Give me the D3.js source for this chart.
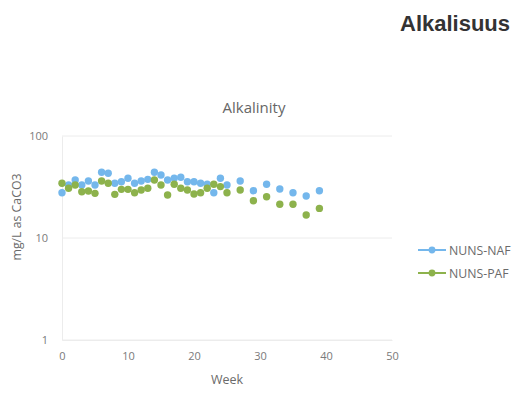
<!DOCTYPE html>
<html>
<head>
<meta charset="utf-8">
<script src="https://cdn.jsdelivr.net/npm/d3@7"></script>
<style>
  html, body { margin: 0; padding: 0; background: #fff; }
  svg { display: block; }
</style>
</head>
<body>
<svg id="chart" width="523" height="403"></svg>
<script>
// Weekly alkalinity readings (mg/L as CaCO3) for the two column types
const weeks = [0,1,2,3,4,5,6,7,8,9,10,11,12,13,14,15,16,17,18,19,20,21,22,23,24,25,27,29,31,33,35,37,39];
const nafValues = [27.8,33.1,37.0,33.1,36.2,33.1,44.1,43.1,34.4,35.6,38.5,34.4,36.2,37.6,44.1,41.5,37.0,38.5,39.4,35.6,35.6,34.4,33.6,27.8,38.5,33.1,36.2,29.1,33.6,30.2,27.8,25.8,29.1];
const pafValues = [34.4,30.7,33.1,28.4,28.9,27.4,36.2,34.4,26.8,30.0,30.0,27.8,29.6,30.7,37.0,33.1,26.4,33.6,30.7,29.6,27.0,27.8,30.7,33.6,31.9,27.8,29.6,23.2,25.4,21.4,21.4,16.8,19.5];
const seriesNames = ["NUNS-NAF", "NUNS-PAF"];
const seriesColors = ["#74b7ec", "#8db24c"];
const xTicks = [0, 10, 20, 30, 40, 50];
const yTicks = [1, 10, 100];

const svg = d3.select("#chart");
const labelFont = "'Open Sans', 'Noto Sans', sans-serif";

const x = d3.scaleLinear().domain([0, 50]).range([62, 392]);
const y = d3.scaleLog().domain([1, 100]).range([340, 136]);

// Page heading
svg.append("text")
  .attr("x", 400).attr("y", 31)
  .attr("font-family", "'Liberation Sans', Arial, sans-serif")
  .attr("font-size", 22).attr("font-weight", "bold")
  .attr("fill", "#333")
  .text("Alkalisuus");

// Chart title
svg.append("text")
  .attr("x", 254).attr("y", 113)
  .attr("text-anchor", "middle")
  .attr("font-family", labelFont)
  .attr("font-size", 15)
  .attr("fill", "#666")
  .text("Alkalinity");

// Horizontal gridlines at each decade
svg.append("g")
  .selectAll("line")
  .data(yTicks)
  .join("line")
  .attr("x1", x(0)).attr("x2", x(50))
  .attr("y1", d => y(d)).attr("y2", d => y(d))
  .attr("stroke", "#ececec").attr("stroke-width", 1);

// Y axis (log scale)
const yAxis = svg.append("g")
  .attr("transform", `translate(${x(0)},0)`)
  .call(d3.axisLeft(y).tickValues(yTicks).tickFormat(d3.format("d")).tickSize(0).tickPadding(14));
yAxis.select(".domain").attr("stroke", "#ececec");
yAxis.selectAll("text")
  .attr("font-family", labelFont).attr("font-size", 11).attr("fill", "#7a7a7a");

// X axis
const xAxis = svg.append("g")
  .attr("transform", `translate(0,${y(1)})`)
  .call(d3.axisBottom(x).tickValues(xTicks).tickSize(0).tickPadding(12));
xAxis.select(".domain").attr("stroke", "#ececec");
xAxis.selectAll("text")
  .attr("font-family", labelFont).attr("font-size", 11).attr("fill", "#7a7a7a");

// Axis titles
svg.append("text")
  .attr("transform", "translate(21,217) rotate(-90)")
  .attr("text-anchor", "middle")
  .attr("font-family", labelFont).attr("font-size", 12.3)
  .attr("fill", "#6a6a6a")
  .text("mg/L as CaCO3");

svg.append("text")
  .attr("x", 227).attr("y", 384)
  .attr("text-anchor", "middle")
  .attr("font-family", labelFont).attr("font-size", 12.5)
  .attr("fill", "#6a6a6a")
  .text("Week");

// Data markers
const series = [nafValues, pafValues];
series.forEach((vals, i) => {
  svg.append("g")
    .selectAll("circle")
    .data(weeks.map((w, k) => ({ w, v: vals[k] })))
    .join("circle")
    .attr("cx", d => x(d.w))
    .attr("cy", d => y(d.v))
    .attr("r", 3.7)
    .attr("fill", seriesColors[i]);
});

// Legend
const legend = svg.append("g");
seriesNames.forEach((name, i) => {
  const ly = 250 + i * 23;
  legend.append("line")
    .attr("x1", 418).attr("x2", 446)
    .attr("y1", ly).attr("y2", ly)
    .attr("stroke", seriesColors[i]).attr("stroke-width", 2);
  legend.append("circle")
    .attr("cx", 432).attr("cy", ly).attr("r", 3.4)
    .attr("fill", seriesColors[i]);
  legend.append("text")
    .attr("x", 449).attr("y", ly + 4.5)
    .attr("font-family", labelFont).attr("font-size", 12.3)
    .attr("fill", "#6a6a6a")
    .text(name);
});
</script>
</body>
</html>
